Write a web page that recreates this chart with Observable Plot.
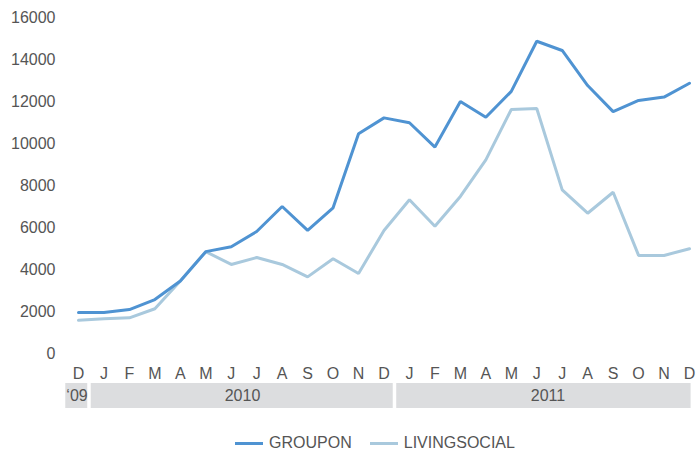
<!DOCTYPE html>
<html>
<head>
<meta charset="utf-8">
<script src="https://cdn.jsdelivr.net/npm/d3@7"></script>
<script src="https://cdn.jsdelivr.net/npm/@observablehq/plot@0.6"></script>
<style>
  body { margin: 0; background: #fff; font-family: "Liberation Sans", Arial, sans-serif; }
  #chart svg { display: block; overflow: visible; }
  .legend { display: flex; justify-content: center; align-items: center; gap: 18px; margin-top: 22px; font-size: 16px; color: #555; height: 20px; padding-left: 52px; }
  .legend span.sw { display: inline-block; width: 28px; height: 3px; margin-right: 6px; vertical-align: middle; }
  .legend .item { display: flex; align-items: center; }
</style>
</head>
<body>
<div id="chart"></div>
<script>
const months = ["D","J","F","M","A","M","J","J","A","S","O","N","D","J","F","M","A","M","J","J","A","S","O","N","D"];
const groupon = [1950,1950,2090,2570,3450,4850,5080,5810,7000,5860,6940,10460,11220,10990,9830,12000,11250,12480,14870,14430,12760,11520,12050,12210,12870];
const livingsocial = [1580,1650,1700,2130,3450,4850,4240,4570,4240,3650,4510,3810,5860,7320,6060,7480,9220,11620,11670,7790,6680,7680,4670,4670,4990];
const yTicks = [0,2000,4000,6000,8000,10000,12000,14000,16000];
const yearLabels = ["‘09","2010","2011"];
const yearStart = [0,1,13];
const yearEnd = [0,12,24];
const seriesNames = ["GROUPON","LIVINGSOCIAL"];
const seriesColors = ["#4f93d2","#a9c9dd"];

const idx = months.map((_, i) => i);
const rows = [];
idx.forEach(i => rows.push({i, v: groupon[i], s: seriesNames[0]}));
idx.forEach(i => rows.push({i, v: livingsocial[i], s: seriesNames[1]}));

const W = 698;
const FS = 16;
const main = Plot.plot({
  width: W, height: 380,
  marginLeft: 78, marginRight: 9, marginTop: 17, marginBottom: 27,
  style: {fontFamily: "Liberation Sans, Arial, sans-serif", fontSize: FS + "px", color: "#555", background: "transparent"},
  x: {type: "linear", domain: [0, 24]},
  y: {domain: [0, 16000]},
  color: {domain: seriesNames, range: seriesColors},
  marks: [
    Plot.axisY({ticks: yTicks, tickSize: 0, tickPadding: 23, label: null, tickFormat: d => String(d), fontSize: FS}),
    Plot.axisX({ticks: idx, tickSize: 0, tickPadding: 14, label: null, tickFormat: i => months[i], fontSize: FS}),
    Plot.line(rows.filter(r => r.s === seriesNames[1]), {x: "i", y: "v", stroke: "s", strokeWidth: 3, strokeLinejoin: "miter"}),
    Plot.line(rows.filter(r => r.s === seriesNames[0]), {x: "i", y: "v", stroke: "s", strokeWidth: 3, strokeLinejoin: "miter"})
  ]
});

// band plot shares the main x mapping: x(0)=78, x(24)=689
const step = (689 - 78) / 24;
const lo = -0.62, hi = 24.2;
const years = yearLabels.map((label, k) => ({label, x1: yearStart[k] - 0.5, x2: yearEnd[k] + 0.5, mid: (yearStart[k] + yearEnd[k]) / 2}));
const band = Plot.plot({
  width: W, height: 31,
  marginLeft: 78 + lo * step, marginRight: W - (689 + (hi - 24) * step), marginTop: 3, marginBottom: 3,
  style: {fontFamily: "Liberation Sans, Arial, sans-serif", fontSize: FS + "px", color: "#555", background: "transparent"},
  x: {type: "linear", domain: [lo, hi], clamp: true, axis: null},
  marks: [
    Plot.rectX(years, {x1: "x1", x2: "x2", fill: "#dcdddf", insetLeft: 0, insetRight: 3.5}),
    Plot.text(years, {x: "mid", text: "label", fill: "#555", fontSize: FS, dx: -1.5})
  ]
});

const chart = document.getElementById("chart");
chart.appendChild(main);
chart.appendChild(band);

const legend = document.createElement("div");
legend.className = "legend";
seriesNames.forEach((name, k) => {
  const item = document.createElement("div");
  item.className = "item";
  const sw = document.createElement("span");
  sw.className = "sw";
  sw.style.background = seriesColors[k];
  item.appendChild(sw);
  item.appendChild(document.createTextNode(name));
  legend.appendChild(item);
});
chart.appendChild(legend);
</script>
</body>
</html>
